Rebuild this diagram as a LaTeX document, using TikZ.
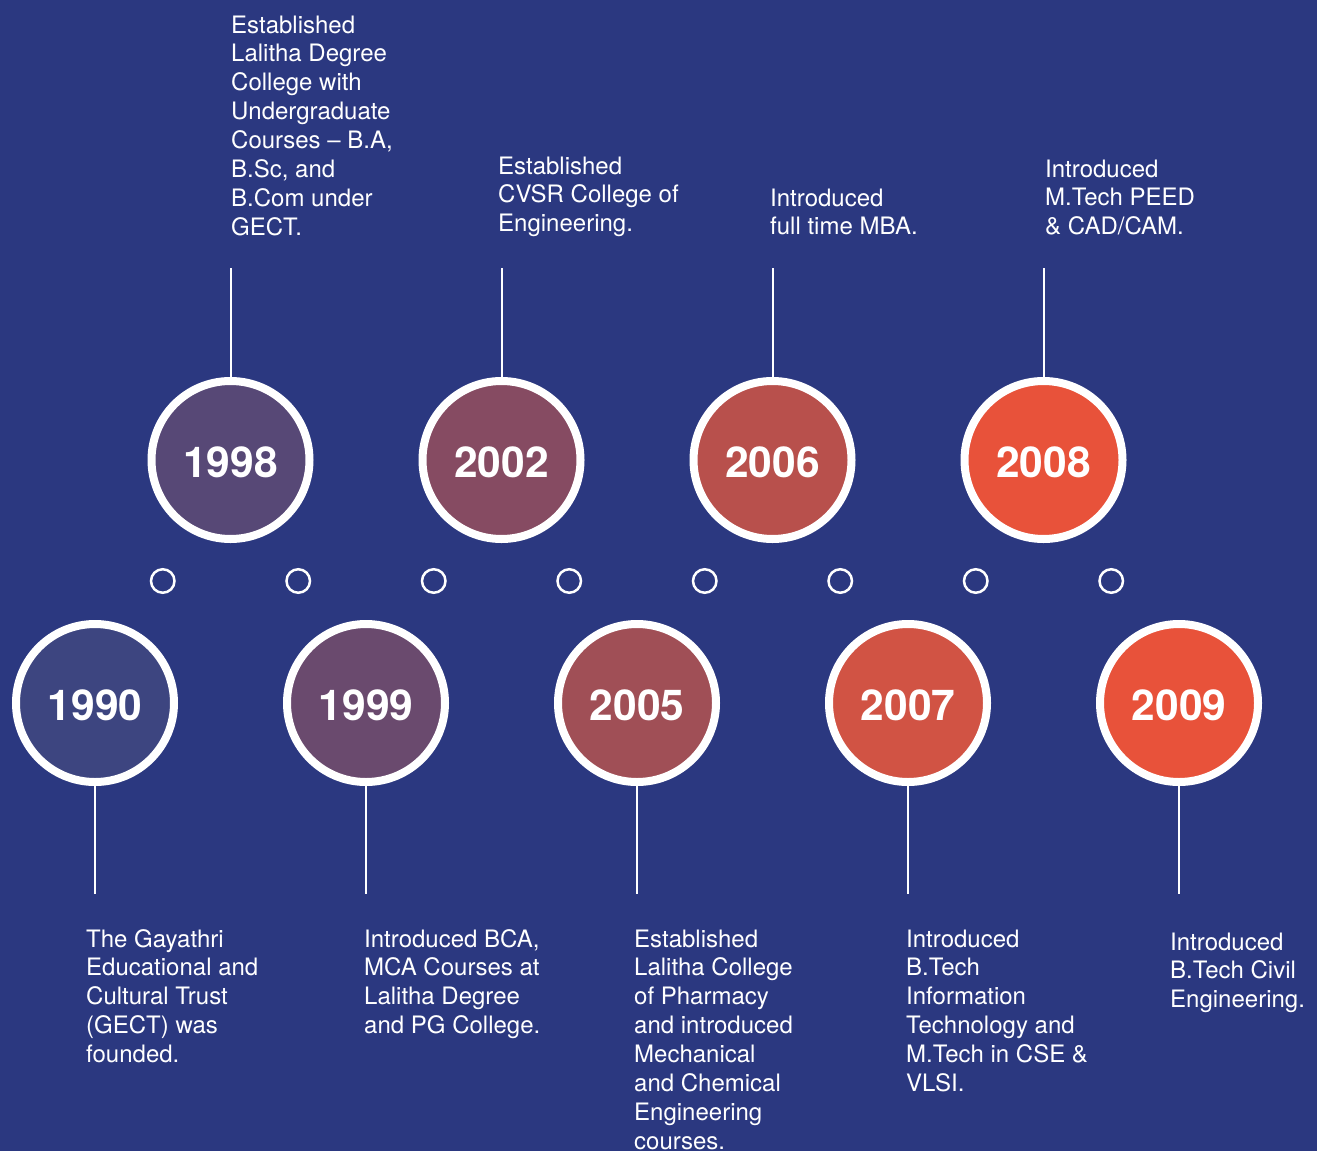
\documentclass[tikz,border=0pt]{standalone}
\usepackage{fontspec}
\setmainfont{TeX Gyre Heros}
\definecolor{bg}{HTML}{2B3880}
\definecolor{c1990}{HTML}{3D4580}
\definecolor{c1998}{HTML}{574876}
\definecolor{c1999}{HTML}{6A4A6E}
\definecolor{c2002}{HTML}{864B62}
\definecolor{c2005}{HTML}{A04F56}
\definecolor{c2006}{HTML}{B8504C}
\definecolor{c2007}{HTML}{D15344}
\definecolor{c2008}{HTML}{E8523A}
\definecolor{c2009}{HTML}{E8523A}
\newcommand{\evtext}[1]{\parbox[t]{300pt}{\raggedright\fontsize{24}{28.9}\selectfont #1}}
\begin{document}
\begin{tikzpicture}[x=1pt,y=-1pt,
  yearc/.style={circle, draw=white, line width=8pt, minimum size=158pt, inner sep=0pt, text=white, text height=35.8pt, text depth=0pt, font=\fontsize{42.5}{42.5}\selectfont\bfseries},
  dotc/.style={circle, draw=white, line width=2.5pt, minimum size=23.5pt, inner sep=0pt},
  conn/.style={draw=white, line width=2pt},
  desc/.style={anchor=base west, inner sep=0pt, text=white}]
\fill[bg] (0,0) rectangle (1317,1151);
\useasboundingbox (0,0) rectangle (1317,1151);

% small dots
\foreach \i in {0,...,7}{
  \node[dotc] (d\i) at ({162.75+135.5*\i},581) {};
}

% year circles
\node[yearc, fill=c1990] (y1990) at (95,703) {1990};
\node[yearc, fill=c1998] (y1998) at (230.5,460) {1998};
\node[yearc, fill=c1999] (y1999) at (366,703) {1999};
\node[yearc, fill=c2002] (y2002) at (501.5,460) {2002};
\node[yearc, fill=c2005] (y2005) at (637,703) {2005};
\node[yearc, fill=c2006] (y2006) at (772.5,460) {2006};
\node[yearc, fill=c2007] (y2007) at (908,703) {2007};
\node[yearc, fill=c2008] (y2008) at (1043.5,460) {2008};
\node[yearc, fill=c2009] (y2009) at (1179,703) {2009};

% free ends of connectors
\coordinate (e1998) at (230.5,268);
\coordinate (e2002) at (501.5,268);
\coordinate (e2006) at (772.5,268);
\coordinate (e2008) at (1043.5,268);
\coordinate (e1990) at (95,894);
\coordinate (e1999) at (366,894);
\coordinate (e2005) at (637,894);
\coordinate (e2007) at (908,894);
\coordinate (e2009) at (1179,894);

\foreach \y in {1998,2002,2006,2008}{
  \draw[conn] (y\y.north) -- (e\y);
}
\foreach \y in {1990,1999,2005,2007,2009}{
  \draw[conn] (y\y.south) -- (e\y);
}

% descriptions
\node[desc] (t1998) at (231,33) {\evtext{Established\\Lalitha Degree\\College with\\Undergraduate\\Courses – B.A,\\B.Sc, and\\B.Com under\\GECT.}};
\node[desc] (t2002) at (498,174) {\evtext{Established\\CVSR College of\\Engineering.}};
\node[desc] (t2006) at (770,206) {\evtext{Introduced\\full time MBA.}};
\node[desc] (t2008) at (1045,177) {\evtext{Introduced\\M.Tech PEED\\\& CAD/CAM.}};
\node[desc] (t1990) at (86,947) {\evtext{The Gayathri\\Educational and\\Cultural Trust\\(GECT) was\\founded.}};
\node[desc] (t1999) at (364,947) {\evtext{Introduced BCA,\\MCA Courses at\\Lalitha Degree\\and PG College.}};
\node[desc] (t2005) at (634,947) {\evtext{Established\\Lalitha College\\of Pharmacy\\and introduced\\Mechanical\\and Chemical\\Engineering\\courses.}};
\node[desc] (t2007) at (906,947) {\evtext{Introduced\\B.Tech\\Information\\Technology and\\M.Tech in CSE \&\\VLSI.}};
\node[desc] (t2009) at (1170,950) {\evtext{Introduced\\B.Tech Civil\\Engineering.}};
\end{tikzpicture}
\end{document}
